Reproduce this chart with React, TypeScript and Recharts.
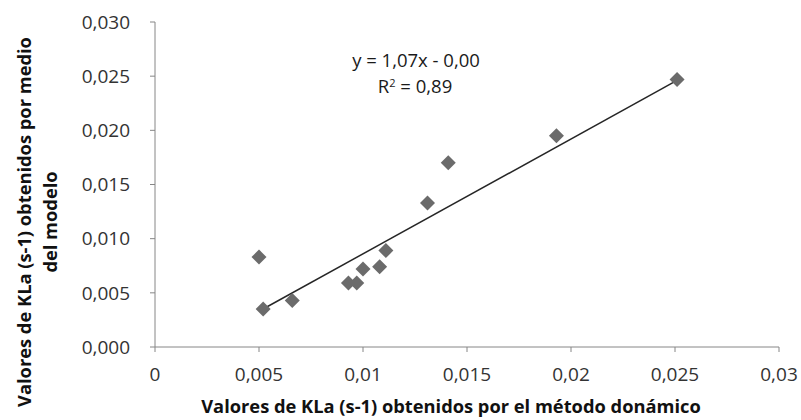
import { Scatter, ScatterChart, XAxis, YAxis } from "recharts";

const measuredX = [0.005, 0.0052, 0.0066, 0.0093, 0.0097, 0.01, 0.0108, 0.0111, 0.0131, 0.0141, 0.0193, 0.0251];
const modelY = [0.0083, 0.0035, 0.0043, 0.0059, 0.0059, 0.0072, 0.0074, 0.0089, 0.0133, 0.017, 0.0195, 0.0247];
const trendX = [0.005, 0.02514];
const trendY = [0.0033, 0.02465];
const xTicks = [0, 0.005, 0.01, 0.015, 0.02, 0.025, 0.03];
const yTicks = [0, 0.005, 0.01, 0.015, 0.02, 0.025, 0.03];

const points = measuredX.map((x, i) => ({ x, y: modelY[i] }));
const trend = trendX.map((x, i) => ({ x, y: trendY[i] }));

const font = "'Open Sans', sans-serif";
const tickStyle = { fill: "#333333", fontSize: 19, fontFamily: font };

function Diamond({ cx, cy }: { cx?: number; cy?: number }) {
  if (cx == null || cy == null) return null;
  const r = 7.5;
  return <polygon points={`${cx},${cy - r} ${cx + r},${cy} ${cx},${cy + r} ${cx - r},${cy}`} fill="#6b6b6b" />;
}

const formatX = (v: number) => (v === 0 ? "0" : String(v).replace(".", ","));
const formatY = (v: number) => v.toFixed(3).replace(".", ",");

export default function App() {
  return (
    <div style={{ position: "absolute", left: 0, top: 0, width: 801, height: 420, background: "#fff", fontFamily: font }}>
      <ScatterChart width={801} height={420} margin={{ top: 22, right: 22, bottom: 0, left: 0 }}>
        <XAxis
          type="number"
          dataKey="x"
          domain={[0, 0.03]}
          ticks={xTicks}
          tickFormatter={formatX}
          height={73}
          stroke="#868686"
          tickSize={5}
          tickMargin={16}
          tick={tickStyle}
          interval={0}
        />
        <YAxis
          type="number"
          dataKey="y"
          domain={[0, 0.03]}
          ticks={yTicks}
          tickFormatter={formatY}
          width={155}
          stroke="#868686"
          tickSize={5}
          tickMargin={20}
          tick={tickStyle}
          interval={0}
        />
        <Scatter data={trend} line={{ stroke: "#262626", strokeWidth: 1.5 }} shape={() => null} isAnimationActive={false} />
        <Scatter data={points} shape={<Diamond />} isAnimationActive={false} />
      </ScatterChart>
      <svg width={801} height={420} style={{ position: "absolute", left: 0, top: 0, pointerEvents: "none" }}>
        <text x={416} y={67} textAnchor="middle" fontSize={18.5} fill="#1a1a1a" fontFamily={font}>
          y = 1,07x - 0,00
        </text>
        <text x={415} y={93} textAnchor="middle" fontSize={18.5} fill="#1a1a1a" fontFamily={font}>
          R<tspan dy={-6} fontSize={11}>2</tspan>
          <tspan dy={6}> = 0,89</tspan>
        </text>
        <text x={451} y={413} textAnchor="middle" fontSize={18.3} fontWeight="bold" fill="#111" fontFamily={font}>
          Valores de KLa (s-1) obtenidos por el método donámico
        </text>
        <g transform="translate(31,222) rotate(-90)">
          <text x={0} y={0} textAnchor="middle" fontSize={18.3} fontWeight="bold" fill="#111" fontFamily={font}>
            Valores de KLa (s-1) obtenidos por medio
          </text>
          <text x={0} y={26} textAnchor="middle" fontSize={18.3} fontWeight="bold" fill="#111" fontFamily={font}>
            del modelo
          </text>
        </g>
      </svg>
    </div>
  );
}
